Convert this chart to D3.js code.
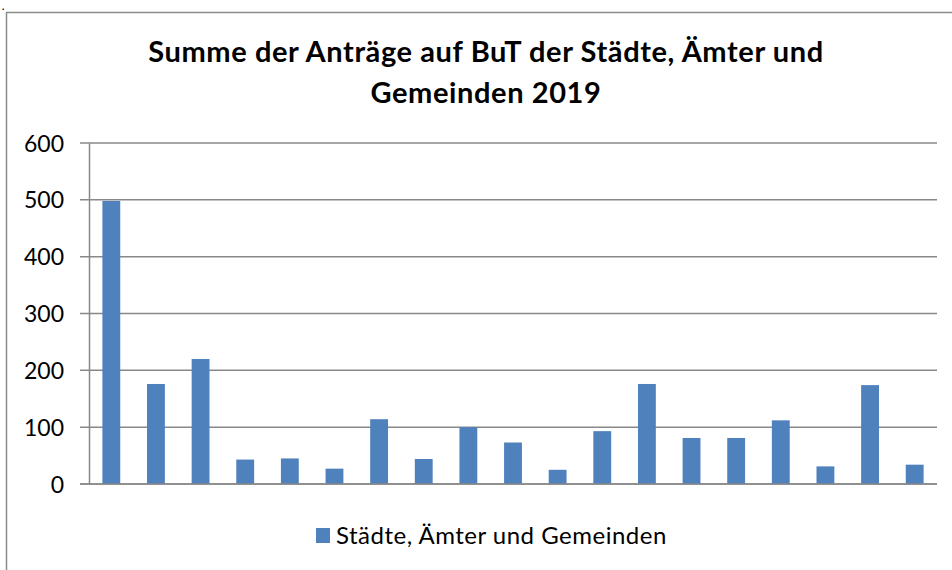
<!DOCTYPE html>
<html>
<head>
<meta charset="utf-8">
<script src="https://cdn.jsdelivr.net/npm/d3@7"></script>
<style>
  body { margin: 0; background: #fff; }
  svg text { font-family: Lato, "Open Sans", sans-serif; fill: #000; }
</style>
</head>
<body>
<div id="chart"></div>
<script>
// Summe der Antraege auf BuT, 2019 (19 Staedte, Aemter und Gemeinden)
var categories = d3.range(1, 20).map(String);
var values = [498, 176, 220, 43, 45, 27, 114, 44, 100, 73, 25, 93, 176, 81, 81, 112, 31, 174, 34];
var yTicks = [0, 100, 200, 300, 400, 500, 600];
var titleLines = ["Summe der Anträge auf BuT der Städte, Ämter und", "Gemeinden 2019"];
var seriesName = "Städte, Ämter und Gemeinden";

var width = 952, height = 570;
var plot = {left: 89, right: 937, top: 143, bottom: 484};

var svg = d3.select("#chart").append("svg")
    .attr("width", width)
    .attr("height", height);

// little dot in the corner, from the source document
svg.append("text")
    .attr("x", 2).attr("y", 10)
    .style("font-size", "10px")
    .style("font-weight", "900")
    .text(".");

// outer chart frame (only left and top edges are in view)
svg.append("path")
    .attr("d", "M6.5," + height + "V12.5H" + width)
    .attr("fill", "none")
    .attr("stroke", "#8c8c8c")
    .attr("stroke-width", 1.5);

// title
svg.append("g")
    .selectAll("text")
    .data(titleLines)
  .enter().append("text")
    .attr("x", 486)
    .attr("y", function(d, i) { return 62 + i * 41; })
    .attr("text-anchor", "middle")
    .style("font-size", "29px")
    .style("letter-spacing", "0.6px")
    .style("font-weight", "bold")
    .text(function(d) { return d; });

var x = d3.scaleBand()
    .domain(categories)
    .range([plot.left, plot.right])
    .paddingInner(0.6)
    .paddingOuter(0.3);

var y = d3.scaleLinear()
    .domain([0, 600])
    .range([plot.bottom, plot.top]);

// gridlines
svg.append("g")
    .selectAll("line")
    .data(yTicks)
  .enter().append("line")
    .attr("x1", plot.left - 9)
    .attr("x2", plot.right)
    .attr("y1", function(d) { return y(d); })
    .attr("y2", function(d) { return y(d); })
    .attr("stroke", "#888")
    .attr("stroke-width", 1.5);

// y axis
var yAxis = d3.axisLeft(y)
    .tickValues(yTicks)
    .tickSize(0)
    .tickPadding(25);

var gy = svg.append("g")
    .attr("transform", "translate(" + plot.left + ",0)")
    .call(yAxis);
gy.select(".domain")
    .attr("stroke", "#888")
    .attr("stroke-width", 1.5);
gy.selectAll("text")
    .attr("dy", "0.35em")
    .style("font-family", "Lato, 'Open Sans', sans-serif")
    .style("font-size", "23px");

// bars
svg.append("g")
    .selectAll("rect")
    .data(values)
  .enter().append("rect")
    .attr("x", function(d, i) { return x(categories[i]); })
    .attr("y", function(d) { return y(d); })
    .attr("width", x.bandwidth())
    .attr("height", function(d) { return y(0) - y(d); })
    .attr("fill", "#4f81bd");

// redraw the baseline on top of bars
svg.append("line")
    .attr("x1", plot.left - 9).attr("x2", plot.right)
    .attr("y1", y(0)).attr("y2", y(0))
    .attr("stroke", "#888")
    .attr("stroke-width", 1.5);

// legend
var legend = svg.append("g")
    .attr("transform", "translate(316,528)");
legend.append("rect")
    .attr("width", 14)
    .attr("height", 15)
    .attr("fill", "#4f81bd");
legend.append("text")
    .attr("x", 20)
    .attr("y", 16)
    .style("font-size", "24px")
    .style("letter-spacing", "0.5px")
    .text(seriesName);
</script>
</body>
</html>
